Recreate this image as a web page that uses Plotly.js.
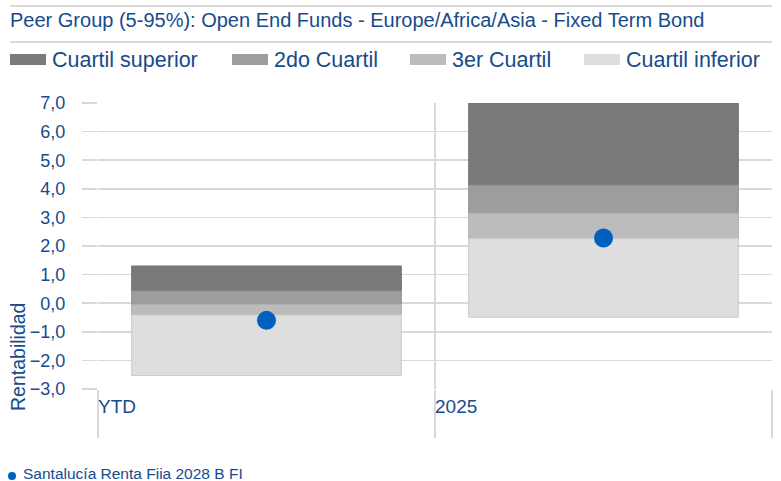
<!DOCTYPE html>
<html>
<head>
<meta charset="utf-8">
<script src="https://cdn.plot.ly/plotly-3.0.1.min.js"></script>
<style>html,body{margin:0;padding:0;background:#fff;}#chart{width:781px;height:481px;}</style>
</head>
<body>
<div id="chart"></div>
<script>
// ---- data ----
const categories = ['YTD', '2025'];
const bandNames = ['Cuartil superior', '2do Cuartil', '3er Cuartil', 'Cuartil inferior'];
const p95 = [1.30, 7.00];
const p75 = [0.43, 4.13];
const p50 = [-0.04, 3.15];
const p25 = [-0.41, 2.26];
const p05 = [-2.53, -0.49];
const fundName = 'Santalucía Renta Fiia 2028 B FI';
const fundValues = [-0.60, 2.28];
const chartTitle = 'Peer Group (5-95%): Open End Funds - Europe/Africa/Asia - Fixed Term Bond';
const yAxisTitle = 'Rentabilidad';

// ---- styles ----
const textColor = '#174b8b';
const gridColor = '#d9d9d9';
const fills = ['#7a7a7b', '#9c9d9e', '#bbbcbd', '#dedede'];
const borders = ['#6f6f70', '#8e8f90', '#adaeaf', '#cbcbcb'];
const dotColor = '#0061bd';
const FONT = 'Liberation Sans, Arial, sans-serif';

// pixel helpers (plot area: x 98..772, y 103..389)
const L = 98, R = 772, T = 103, B = 389;
const px = v => (v - L) / (R - L);
const py = v => (B - v) / (B - T);

const upper = [p95, p75, p50, p25];
const lower = [p75, p50, p25, p05];

const traces = bandNames.map((n, i) => ({
  type: 'bar',
  name: n,
  x: categories,
  base: lower[i],
  y: upper[i].map((u, j) => u - lower[i][j]),
  width: 0.8,
  marker: {color: fills[i], line: {color: borders[i], width: 1}},
  showlegend: false,
  hoverinfo: 'skip'
}));

traces.push({
  type: 'scatter',
  mode: 'markers',
  name: fundName,
  x: categories,
  y: fundValues,
  marker: {color: dotColor, size: 19},
  cliponaxis: false,
  showlegend: false
});

// legend built from the series names
const legendX = [10, 232, 410, 584];
const shapes = [
  {type: 'line', xref: 'paper', yref: 'paper', x0: px(10), x1: px(772), y0: py(6), y1: py(6), line: {color: '#dadada', width: 2}},
  {type: 'line', xref: 'paper', yref: 'paper', x0: px(10), x1: px(772), y0: py(42), y1: py(42), line: {color: '#dadada', width: 2}}
];
const annotations = [];
bandNames.forEach((n, i) => {
  shapes.push({type: 'rect', xref: 'paper', yref: 'paper', x0: px(legendX[i]), x1: px(legendX[i] + 36), y0: py(54), y1: py(65), fillcolor: fills[i], line: {width: 0}});
  annotations.push({xref: 'paper', yref: 'paper', x: px(legendX[i] + 40), y: py(59.5), xanchor: 'left', yanchor: 'middle', text: n, showarrow: false, font: {family: FONT, size: 21.5, color: textColor}});
});
// fund legend
shapes.push({type: 'circle', xref: 'paper', yref: 'paper', x0: px(8), x1: px(16), y0: py(472), y1: py(480), fillcolor: dotColor, line: {width: 0}});
annotations.push({xref: 'paper', yref: 'paper', x: px(21), y: py(474), xanchor: 'left', yanchor: 'middle', text: fundName, showarrow: false, font: {family: FONT, size: 15.5, color: textColor}});
// category labels at left boundary of each category
categories.forEach((c, i) => {
  annotations.push({xref: 'x', yref: 'paper', x: i - 0.5, y: py(406), xanchor: 'left', yanchor: 'middle', text: c, showarrow: false, font: {family: FONT, size: 19, color: textColor}, xshift: -2});
});
// y axis title
annotations.push({xref: 'paper', yref: 'paper', x: px(18), y: py(357), xanchor: 'center', yanchor: 'middle', textangle: -90, text: yAxisTitle, showarrow: false, font: {family: FONT, size: 19.5, color: textColor}});

const layout = {
  width: 781, height: 481,
  margin: {l: L, r: 781 - R, t: T, b: 481 - B},
  paper_bgcolor: '#ffffff', plot_bgcolor: '#ffffff',
  separators: ',.',
  font: {family: FONT, color: textColor},
  title: {text: chartTitle, xref: 'container', yref: 'container', x: 10 / 781, xanchor: 'left', y: 1 - 20 / 481, yanchor: 'middle', font: {family: FONT, size: 20, color: textColor}},
  barmode: 'overlay',
  showlegend: false,
  xaxis: {
    type: 'category', range: [-0.5, 1.5], tickson: 'boundaries',
    showgrid: true, gridcolor: gridColor, gridwidth: 2,
    ticks: 'outside', ticklen: 48, tickcolor: gridColor, tickwidth: 2,
    showticklabels: false, zeroline: false, showline: false, fixedrange: true
  },
  yaxis: {
    range: [-3, 7], dtick: 1, tick0: 0, tickformat: '.1f',
    showgrid: true, gridcolor: gridColor, gridwidth: 1.5,
    ticks: 'outside', ticklen: 15, tickcolor: gridColor, tickwidth: 1.5,
    ticklabelstandoff: 13,
    tickfont: {family: FONT, size: 18, color: textColor},
    zeroline: false, showline: false, fixedrange: true
  },
  shapes: shapes,
  annotations: annotations
};

Plotly.newPlot('chart', traces, layout, {displayModeBar: false, staticPlot: true});
</script>
</body>
</html>
